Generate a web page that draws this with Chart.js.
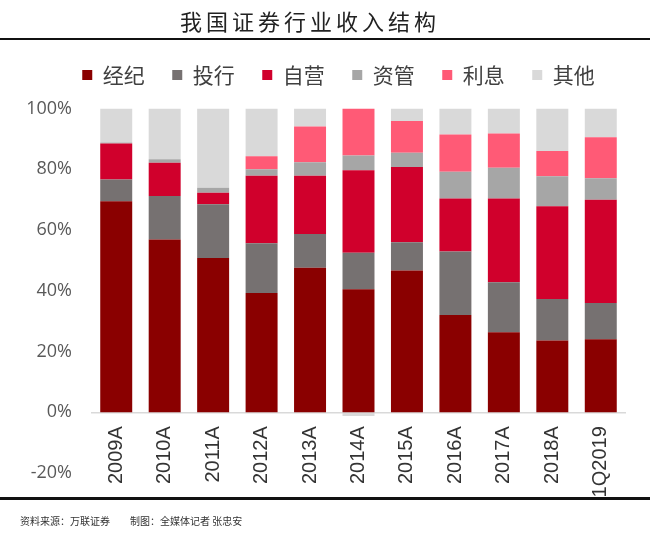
<!DOCTYPE html>
<html>
<head>
<meta charset="utf-8">
<script src="https://cdn.jsdelivr.net/npm/chart.js@4"></script>
<style>
  html, body { margin: 0; padding: 0; background: #fff; }
  #wrap { position: relative; width: 650px; height: 539px; overflow: hidden; }
  #c { position: absolute; left: 0; top: 0; }
  #title { position: absolute; left: 0; width: 620px; top: 4px; text-align: center; font-family: "Noto Sans CJK SC", sans-serif; font-size: 22px; letter-spacing: 4px; color: #222; }
  #topline { position: absolute; left: 0; top: 38px; width: 650px; height: 2px; background: #111; }
  #botline { position: absolute; left: 0; top: 497px; width: 650px; height: 3px; background: #111; }
  #foot { position: absolute; left: 20px; top: 513px; font-family: "Noto Sans CJK SC", sans-serif; font-size: 10px; color: #333; white-space: pre; }
</style>
</head>
<body>
<div id="wrap">
  <canvas id="c" width="650" height="539"></canvas>
  <div id="title">我国证券行业收入结构</div>
  <div id="topline"></div>
  <div id="botline"></div>
  <div id="foot">资料来源：万联证券　　制图：全媒体记者 张忠安</div>
</div>
<script>
const categories = ['2009A','2010A','2011A','2012A','2013A','2014A','2015A','2016A','2017A','2018A','1Q2019'];
const brokerage  = [69.5, 56.9, 50.8, 39.3, 47.6, 40.5, 46.7, 32.0, 26.3, 23.6, 24.0];
const ibanking   = [7.1, 14.3, 17.7, 16.3, 11.1, 12.0, 9.3, 20.9, 16.5, 13.7, 12.0];
const proprietary= [11.9, 10.9, 3.8, 22.3, 19.2, 27.2, 24.7, 17.5, 27.6, 30.5, 34.0];
const assetMgmt  = [0.3, 1.2, 1.6, 2.1, 4.4, 4.8, 4.7, 8.8, 10.1, 9.9, 7.0];
const interest   = [0, 0, 0, 4.3, 11.8, 15.5, 10.5, 12.2, 11.3, 8.3, 13.5];
const others     = [11.2, 16.7, 26.1, 15.7, 5.9, -1.2, 4.1, 8.6, 8.2, 14.0, 9.5];
const seriesNames = ['经纪','投行','自营','资管','利息','其他'];
const seriesColors = ['#8A0000','#767171','#D0002C','#A6A6A6','#FF5A76','#D9D9D9'];
const yTicks = [-20, 0, 20, 40, 60, 80, 100];

const seriesData = [brokerage, ibanking, proprietary, assetMgmt, interest, others];

const legendPatch = {
  id: 'legendPatch',
  beforeLayout(chart) {
    const lg = chart.legend;
    if (lg && !lg._patched) {
      const f = lg.fit;
      lg.fit = function() { f.call(this); this.height += 13; };
      lg._patched = true;
    }
  },
  afterLayout(chart) {
    const lg = chart.legend;
    if (lg) { lg.left = 52; }
  }
};

new Chart(document.getElementById('c'), {
  type: 'bar',
  data: {
    labels: categories,
    datasets: seriesNames.map((n, i) => ({
      label: n,
      data: seriesData[i],
      backgroundColor: seriesColors[i],
      borderWidth: 0,
      categoryPercentage: 1,
      barPercentage: 0.66
    }))
  },
  options: {
    responsive: false,
    animation: false,
    layout: { padding: { top: 37, left: 22, right: 25, bottom: 66 } },
    plugins: {
      tooltip: { enabled: false },
      legend: {
        position: 'top',
        labels: {
          boxWidth: 10, boxHeight: 10, padding: 27.5,
          color: '#404040',
          font: { family: '"Noto Sans CJK SC", sans-serif', size: 21 }
        }
      }
    },
    scales: {
      x: {
        stacked: true,
        position: { y: 0 },
        grid: { display: false, drawTicks: false },
        border: { display: true, color: '#D9D9D9', width: 1.5 },
        ticks: {
          minRotation: 90, maxRotation: 90, padding: 14,
          color: '#333333',
          font: { family: '"Liberation Sans", Arial, sans-serif', size: 20 }
        }
      },
      y: {
        stacked: true,
        min: -20, max: 100,
        afterBuildTicks: s => { s.ticks = yTicks.map(v => ({ value: v })); },
        afterFit: s => { s.width = 70; },
        grid: { display: false, drawTicks: false },
        border: { display: false },
        ticks: {
          padding: 20,
          color: '#595959',
          callback: v => v + '%',
          font: { family: '"Open Sans", sans-serif', size: 18 }
        }
      }
    }
  },
  plugins: [legendPatch]
});
</script>
</body>
</html>
